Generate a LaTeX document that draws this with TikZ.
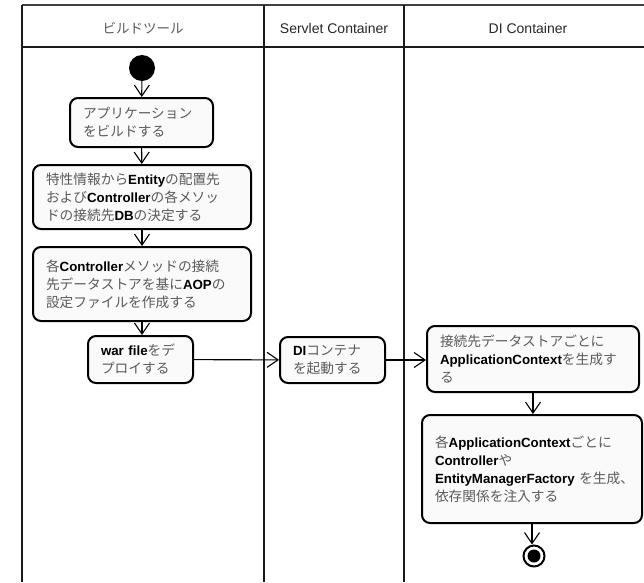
\documentclass[tikz,border=0pt]{standalone}
\usepackage{fontspec}
\setmainfont{Noto Sans CJK JP}
\newfontfamily\latin{Liberation Sans}
\usetikzlibrary{arrows.meta}
\definecolor{jpgray}{HTML}{5A5A5A}
\definecolor{boxfill}{HTML}{FAFAFA}
\definecolor{lanecol}{HTML}{1A1A1A}
% Latin words inside activity labels
\newcommand{\E}[1]{{\latin\bfseries\fontsize{13.3}{18}\selectfont\color{black}#1}}

\begin{document}
\begin{tikzpicture}[x=1pt,y=-1pt,
  lane/.style={line width=2.4pt, draw=lanecol},
  act/.style={draw, line width=2pt, rounded corners=8pt, fill=boxfill,
    align=left, inner xsep=13pt, inner ysep=3pt, text=jpgray,
    font=\fontsize{13.7}{18}\selectfont},
  flow/.style={line width=1.1pt,
    -{Straight Barb[length=11pt,width=15pt,line width=1.1pt]}},
  head/.style={font=\latin\fontsize{14}{16}\selectfont, text=black!85},
  jphead/.style={font=\fontsize{13.5}{16}\selectfont, text=jpgray}
]
\useasboundingbox (0,0) rectangle (644,582);

% swimlane frame
\draw[lane, line width=2pt, draw=black!75] (22,5) -- (644,5);
\draw[lane] (22,47) -- (644,47);
\draw[lane] (22,5) -- (22,582);
\draw[lane] (264,5) -- (264,582);
\draw[lane] (404,5) -- (404,582);

% lane headers
\node[jphead] (h1) at (143,28) {ビルドツール};
\node[head] (h2) at (334,28) {Servlet Container};
\node[head] (h3) at (528,28) {DI Container};

% initial node
\node[circle, fill=black, minimum size=26pt, inner sep=0pt] (start) at (142,68) {};

% build tool lane
\node[act, minimum width=143pt, minimum height=49pt, text width=117pt] (b1) at (141.5,122.5)
  {アプリケーション\\をビルドする};
\node[act, minimum width=218pt, minimum height=64pt, text width=192pt] (b2) at (142,197)
  {特性情報から\E{Entity}の配置先\\および\E{Controller}の各メソッ\\ドの接続先\E{DB}の決定する};
\node[act, minimum width=218pt, minimum height=74pt, text width=192pt] (b3) at (142,284)
  {各\E{Controller}メソッドの接続\\先データストアを基に\E{AOP}の\\設定ファイルを作成する};
\node[act, minimum width=105pt, minimum height=47pt, text width=79pt] (b4) at (140.5,359.5)
  {\E{war~file}をデ\\プロイする};

% servlet container lane
\node[act, minimum width=105pt, minimum height=46pt, text width=79pt] (b5) at (332.5,360)
  {\E{DI}コンテナ\\を起動する};

% DI container lane
\node[act, minimum width=212pt, minimum height=66pt, text width=186pt] (b6) at (533,359)
  {接続先データストアごとに\\\E{ApplicationContext}を生成す\\る};
\node[act, minimum width=220pt, minimum height=108pt, text width=194pt] (b7) at (532,469)
  {各\E{ApplicationContext}ごとに\\\E{Controller}や\\\mbox{\E{EntityManagerFactory}\ を生成、}\\依存関係を注入する};

% final node
\node[circle, draw, line width=2pt, fill=white, minimum size=21pt, inner sep=0pt] (end) at (534,556) {};
\fill (end.center) circle (6.5pt);

% control flow
\draw[flow] (start) -- (b1);
\draw[flow] (b1) -- (b2);
\draw[flow] (b2) -- (b3);
\draw[flow] (b3.south) -- (b3.south |- b4.north);
\draw[flow] (b4) -- (b5);
\draw[flow] (b5.east) -- (b5.east -| b6.west);
\draw[flow] (b6.south) -- (b6.south |- b7.north);
\draw[flow] (b7.south) -- (b7.south |- end.north);
\end{tikzpicture}
\end{document}
